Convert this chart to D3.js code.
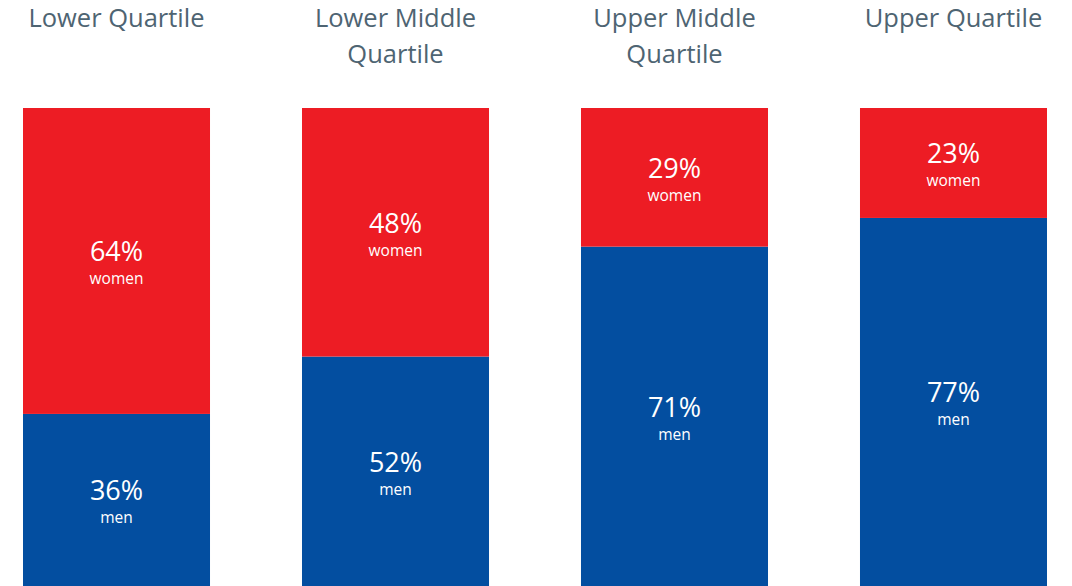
<!DOCTYPE html>
<html>
<head>
<meta charset="utf-8">
<script src="https://cdn.jsdelivr.net/npm/d3@7"></script>
<style>
  html, body { margin: 0; padding: 0; background: #fff; }
  svg { display: block; }
</style>
</head>
<body>
<div id="chart"></div>
<script>
// Data
const categories = ["Lower Quartile", "Lower Middle Quartile", "Upper Middle Quartile", "Upper Quartile"];
const titleLines = [["Lower Quartile"], ["Lower Middle", "Quartile"], ["Upper Middle", "Quartile"], ["Upper Quartile"]];
// Shares as drawn (bar heights)
const womenShare = [64, 52, 29, 23];
const menShare = [36, 48, 71, 77];
// Printed labels
const womenLabels = ["64%", "48%", "29%", "23%"];
const menLabels = ["36%", "52%", "71%", "77%"];

const W = 1072, H = 586;
const svg = d3.select("#chart").append("svg").attr("width", W).attr("height", H);

const x = d3.scaleBand().domain(categories).range([23, 1047]).paddingInner(0.3297).paddingOuter(0);
const y = d3.scaleLinear().domain([0, 100]).range([586, 108]);

const RED = "#ED1C24", BLUE = "#034EA0";
const FONT = "'Open Sans', sans-serif";

const rows = categories.map((c, i) => ({
  cat: c, men: menShare[i], women: womenShare[i],
  menLabel: menLabels[i], womenLabel: womenLabels[i], title: titleLines[i]
}));

const g = svg.selectAll("g.bar").data(rows).join("g").attr("class", "bar");

// men segment (bottom)
g.append("rect")
  .attr("x", d => x(d.cat)).attr("width", x.bandwidth())
  .attr("y", d => y(d.men)).attr("height", d => y(0) - y(d.men))
  .attr("fill", BLUE);
// women segment (top)
g.append("rect")
  .attr("x", d => x(d.cat)).attr("width", x.bandwidth())
  .attr("y", d => y(d.men + d.women)).attr("height", d => y(d.men) - y(d.men + d.women))
  .attr("fill", RED);

const cx = d => x(d.cat) + x.bandwidth() / 2;

function segLabel(sel, midFn, pctFn, word) {
  sel.append("text")
    .attr("text-anchor", "middle").attr("fill", "#fff")
    .style("font-family", FONT).style("font-size", "27px")
    .attr("x", cx).attr("y", d => midFn(d) + 0.5)
    .text(pctFn);
  sel.append("text")
    .attr("text-anchor", "middle").attr("fill", "#fff")
    .style("font-family", FONT).style("font-size", "15.5px")
    .attr("x", cx).attr("y", d => midFn(d) + 23.5)
    .text(word);
}

segLabel(g, d => (y(d.men) + y(d.men + d.women)) / 2, d => d.womenLabel, "women");
segLabel(g, d => (y(0) + y(d.men)) / 2, d => d.menLabel, "men");

// titles
const t = g.append("text")
  .attr("text-anchor", "middle").attr("fill", "#4E6472")
  .style("font-family", FONT).style("font-size", "25.5px");
t.selectAll("tspan").data(d => d.title.map(s => ({ s, d })))
  .join("tspan")
  .attr("x", o => cx(o.d))
  .attr("y", (o, j) => 26.5 + j * 36)
  .text(o => o.s);
</script>
</body>
</html>
